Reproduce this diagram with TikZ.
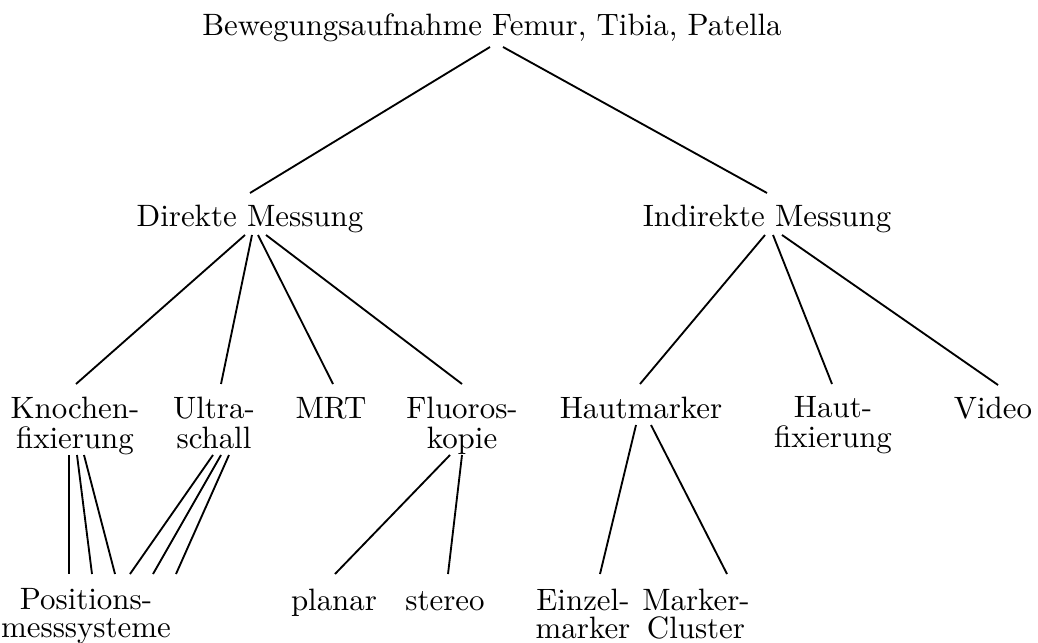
\documentclass[tikz,border=0pt]{standalone}
\usetikzlibrary{calc}
\begin{document}
\begin{tikzpicture}[x=0.3236pt,y=-0.3236pt,
  lbl/.style={inner sep=0pt,font=\fontsize{10pt}{9.7pt}\selectfont},
  one/.style={lbl,anchor=base},
  two/.style={lbl,anchor=north,align=center},
  twolow/.style={two,font=\fontsize{10pt}{9.1pt}\selectfont},
  conn/.style={line width=0.6pt}]
\useasboundingbox (0,0) rectangle (1038,643);
% nodes
\node[one] (root) at (492,36) {Bewegungsaufnahme Femur, Tibia, Patella};
\node[one] (dm) at (250,227) {Direkte Messung};
\node[one] (im) at (767,227) {Indirekte Messung};
\node[two] (kf) at (75,396) {Knochen-\\fixierung};
\node[two] (us) at (214,396) {Ultra-\\schall};
\node[one] (mrt) at (331,418) {MRT};
\node[two] (fl) at (462,396) {Fluoros-\\kopie};
\node[one] (hm) at (641,418) {Hautmarker};
\node[two] (hf) at (833,396) {Haut-\\fixierung};
\node[one] (vid) at (993,418) {Video};
\node[twolow] (pos) at (86,588) {Positions-\\messsysteme};
\node[one] (pl) at (334,610) {planar};
\node[one] (st) at (445,610) {stereo};
\node[twolow] (ez) at (583,588) {Einzel-\\marker};
\node[twolow] (mc) at (696,588) {Marker-\\Cluster};
% connectors
\draw[conn] ($(root.base)+(-2,11)$) -- ($(dm.base)+(0,-34)$);
\draw[conn] ($(root.base)+(11,11)$) -- ($(im.base)+(0,-34)$);
\draw[conn] ($(dm.base)+(-5,8)$) -- ($(kf.north)+(1,-12)$);
\draw[conn] ($(dm.base)+(2,8)$) -- ($(us.north)+(7,-12)$);
\draw[conn] ($(dm.base)+(8,8)$) -- ($(mrt.base)+(2,-34)$);
\draw[conn] ($(dm.base)+(16,8)$) -- ($(fl.north)+(0,-12)$);
\draw[conn] ($(im.base)+(-2,8)$) -- ($(hm.base)+(-1,-34)$);
\draw[conn] ($(im.base)+(6,8)$) -- ($(hf.north)+(-1,-12)$);
\draw[conn] ($(im.base)+(15,8)$) -- ($(vid.base)+(5,-33)$);
\draw[conn] ($(kf.north)+(-6,59)$) -- ($(pos.north)+(-17,-14)$);
\draw[conn] ($(kf.north)+(2,59)$) -- ($(pos.north)+(6,-14)$);
\draw[conn] ($(kf.north)+(9,59)$) -- ($(pos.north)+(29,-14)$);
\draw[conn] ($(us.north)+(-1,59)$) -- ($(pos.north)+(44,-14)$);
\draw[conn] ($(us.north)+(7,59)$) -- ($(pos.north)+(67,-14)$);
\draw[conn] ($(us.north)+(15,59)$) -- ($(pos.north)+(90,-14)$);
\draw[conn] ($(fl.north)+(-12,59)$) -- ($(pl.base)+(1,-36)$);
\draw[conn] ($(fl.north)+(0,59)$) -- ($(st.base)+(3,-36)$);
\draw[conn] ($(hm.base)+(-5,7)$) -- ($(ez.north)+(17,-14)$);
\draw[conn] ($(hm.base)+(10,7)$) -- ($(mc.north)+(31,-14)$);
\end{tikzpicture}
\end{document}
